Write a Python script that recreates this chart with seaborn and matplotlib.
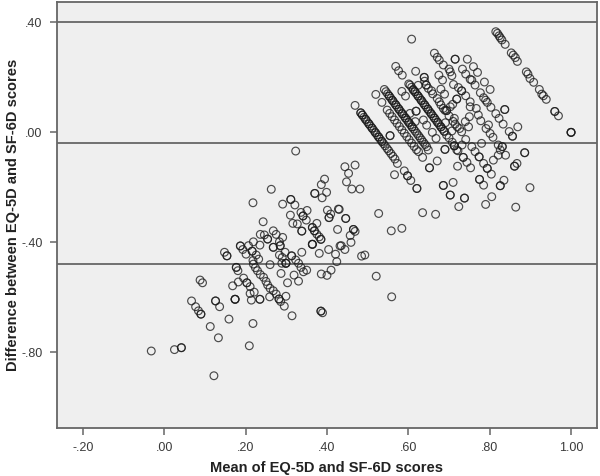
import matplotlib
matplotlib.use("Agg")
import matplotlib.pyplot as plt
import pandas as pd
import seaborn as sns

# values, grouped by region
stripe_a_mean = [.483, .483, .487, .491, .495, .499, .503, .507, .511, .515, .519, .523, .527, .531, .535, .539, .543, .548, .552, .557, .562, .567, .573]
stripe_a_diff = [.071, .071, .063, .055, .047, .039, .031, .023, .015, .007, -.001, -.009, -.017, -.025, -.033, -.041, -.049, -.059, -.067, -.077, -.087, -.097, -.113]

stripe_b_mean = [.545, .549, .553, .557, .561, .565, .569, .573, .577, .581, .585, .589, .593, .597, .601, .605, .609, .613, .617, .621, .625, .629, .633, .637, .641, .645, .649]
stripe_b_diff = [.148, .140, .132, .124, .116, .108, .100, .092, .084, .076, .068, .060, .052, .044, .036, .028, .020, .012, .004, -.004, -.012, -.020, -.028, -.036, -.044, -.052, -.064]

stripe_c_mean = [.548, .554, .560, .566, .572, .578, .584, .590, .596, .602, .608, .614, .620, .625]
stripe_c_diff = [.081, .069, .057, .045, .033, .021, .009, -.003, -.015, -.027, -.039, -.051, -.063, -.070]

stripe_d_mean = [.604, .608, .612, .616, .620, .624, .628, .632, .636, .640, .644, .648, .652, .656, .660, .664, .668, .672, .676, .680, .684, .688, .694, .700, .708, .713, .719]
stripe_d_diff = [.172, .164, .156, .148, .140, .132, .124, .116, .108, .100, .092, .084, .076, .068, .060, .052, .044, .036, .028, .020, .012, .004, -.010, -.020, -.036, -.049, -.064]

# darker stretches where several cases sit on top of each other
stack_mean = [.487, .495, .503, .511, .519, .527, .535, .553, .561, .569, .577, .585, .593, .601, .609, .616, .624, .632, .640, .648, .656, .664, .672, .680, .688]
stack_diff = [.063, .047, .031, .015, -.001, -.017, -.033, .132, .116, .100, .084, .068, .052, .036, .020, .148, .132, .116, .100, .084, .068, .052, .036, .020, .004]

stripe_e_mean = [.660, .680, .690, .700, .710, .720]
stripe_e_diff = [.140, .100, .080, .060, .040, .020]

top_mean = [.815, .819, .823, .826, .830, .838, .853, .858, .863, .868, .890, .894, .899, .908, .922, .928, .932, .939, .960, .960, .969, 1.0, 1.0, 1.0]
top_diff = [.366, .360, .351, .344, .336, .320, .289, .281, .272, .258, .220, .212, .196, .182, .156, .139, .133, .120, .076, .076, .060, .0, .0, .0]

upper_mean = [.608, .664, .671, .676, .686, .700, .703, .707, .715, .715, .745, .733, .741, .752, .756, .764, .760, .770, .787, .801, .777, .785, .790, .794, .803, .837, .837, .815, .823, .833, .869, .848, .856, .856, .569, .576, .585, .618, .675, .684, .639, .639, .644, .644, .649, .657, .640, .601, .612, .624, .584, .593, .520, .535, .541, .469]
upper_diff = [.339, .288, .273, .263, .245, .230, .220, .206, .266, .266, .266, .230, .212, .193, .190, .172, .239, .218, .183, .156, .144, .126, .117, .109, .091, .083, .083, .068, .051, .030, .020, .003, -.014, -.014, .240, .224, .208, .222, .208, .190, .200, .200, .172, .172, .160, .151, .186, .176, .154, .171, .149, .132, .138, .109, .156, .098]

centre_mean = [.680, .689, .671, .676, .711, .723, .731, .731, .741, .719, .719, .709, .703, .694, .694, .686, .752, .752, .767, .772, .750, .740, .748, .778, .797, .791, .801, .808, .713, .715, .726, .731, .707, .691, .741, .732, .713, .713, .722, .690, .690, .756, .764, .774, .774, .780, .619, .619, .617, .637, .645, .659, .668, .604, .555, .555]
centre_diff = [.157, .139, .123, .111, .174, .163, .151, .151, .133, .121, .121, .102, .093, .079, .079, .087, .111, .093, .087, .063, .057, .039, .020, .042, .027, .014, -.004, -.018, .051, .030, .014, .002, .005, .035, -.026, -.046, -.049, -.049, -.067, -.062, -.062, -.052, -.070, -.089, -.089, -.040, .077, .077, .039, .045, .026, .000, -.022, .069, -.012, -.012]

lower_right_mean = [.735, .735, .744, .753, .721, .785, .794, .794, .804, .809, .821, .831, .831, .826, .839, .821, .886, .886, .861, .861, .867, .835, .826, .826, .775, .775, .785, .899, .805, .790, .864, .738, .738, .724, .703, .703, .686, .686, .710, .566, .590, .598, .598, .606, .621, .621, .652, .652, .671, .635, .635, .667, .527, .558, .584, .521, .559]
lower_right_diff = [-.091, -.091, -.109, -.129, -.123, -.113, -.131, -.131, -.152, -.101, -.083, -.052, -.052, -.064, -.083, -.046, -.074, -.074, -.123, -.123, -.113, -.174, -.194, -.194, -.171, -.171, -.192, -.201, -.234, -.262, -.272, -.239, -.239, -.270, -.228, -.228, -.193, -.193, -.182, -.154, -.140, -.158, -.158, -.175, -.204, -.204, -.129, -.129, -.104, -.091, -.292, -.298, -.295, -.358, -.349, -.523, -.598]

low_far_mean = [-.032, .025, .042, .042, .122, .209, .133, .113, .159, .218, .314, .295, .286, .282, .282, .299, .259, .235, .235, .214, .221, .211, .136, .126, .126, .067, .077, .084, .090, .090, .088, .094, .174, .174, .174, .168, .182, .195, .203, .203, .211, .177, .177, .181, .148, .154, .154]
low_far_diff = [-.795, -.790, -.783, -.783, -.885, -.776, -.747, -.706, -.679, -.695, -.667, -.632, -.615, -.606, -.606, -.596, -.598, -.607, -.607, -.610, -.581, -.586, -.634, -.613, -.613, -.613, -.634, -.649, -.661, -.661, -.537, -.547, -.607, -.607, -.607, -.558, -.544, -.530, -.547, -.547, -.561, -.491, -.491, -.503, -.436, -.449, -.449]

low_mid_mean = [.187, .187, .193, .201, .207, .216, .216, .219, .235, .226, .232, .218, .263, .243, .236, .246, .254, .254, .268, .275, .291, .283, .285, .285, .268, .268, .283, .290, .297, .299, .299, .299, .289, .260, .287, .303, .319, .330, .313, .313, .323, .330, .336, .342, .350, .338, .381, .404, .364, .364, .364, .421, .424, .432, .426, .386, .400, .410, .385, .385, .389, .218, .219, .224, .229, .236, .244, .250, .254, .260, .268, .275]
low_mid_diff = [-.413, -.413, -.426, -.443, -.412, -.432, -.432, -.398, -.410, -.446, -.461, -.256, -.207, -.325, -.371, -.373, -.388, -.388, -.358, -.371, -.382, -.398, -.412, -.412, -.418, -.418, -.446, -.455, -.436, -.476, -.476, -.476, -.476, -.481, -.513, -.547, -.519, -.541, -.449, -.449, -.464, -.476, -.491, -.507, -.501, -.436, -.440, -.426, -.407, -.407, -.407, -.443, -.470, -.413, -.353, -.515, -.520, -.501, -.650, -.650, -.656, -.466, -.479, -.492, -.503, -.517, -.527, -.542, -.555, -.567, -.576, -.588]

up_mid_mean = [.323, .311, .311, .321, .291, .310, .316, .327, .336, .341, .341, .351, .349, .338, .338, .375, .364, .364, .369, .369, .375, .381, .385, .385, .370, .370, .386, .394, .399, .388, .401, .409, .405, .405, .428, .446, .446, .457, .465, .465, .469, .459, .435, .444, .485, .493, .444, .469, .453, .448, .461, .481, .430]
up_mid_diff = [-.068, -.244, -.244, -.264, -.261, -.301, -.331, -.333, -.291, -.304, -.304, -.284, -.319, -.359, -.359, -.331, -.346, -.346, -.358, -.358, -.370, -.380, -.389, -.389, -.222, -.222, -.190, -.170, -.218, -.238, -.283, -.297, -.310, -.310, -.279, -.313, -.313, -.375, -.353, -.353, -.360, -.400, -.412, -.426, -.450, -.446, -.125, -.119, -.149, -.180, -.206, -.206, -.280]

x_ticks = [-.20, .00, .20, .40, .60, .80, 1.00]
x_tick_labels = ["-.20", ".00", ".20", ".40", ".60", ".80", "1.00"]
y_ticks = [.40, .00, -.40, -.80]
y_tick_labels = [".40", ".00", "-.40", "-.80"]
ref_lines = [.40, -.04, -.48]

means = (stripe_a_mean + stripe_b_mean + stripe_c_mean + stripe_d_mean + stack_mean + stripe_e_mean + top_mean
         + upper_mean + centre_mean + lower_right_mean + low_far_mean + low_mid_mean + up_mid_mean)
diffs = (stripe_a_diff + stripe_b_diff + stripe_c_diff + stripe_d_diff + stack_diff + stripe_e_diff + top_diff
         + upper_diff + centre_diff + lower_right_diff + low_far_diff + low_mid_diff + up_mid_diff)
df = pd.DataFrame({"mean": means, "diff": diffs})

sns.set_style("white")
plt.rcParams['font.family'] = ['Liberation Sans', 'DejaVu Sans']

C_LINE = "#666666"
C_TEXT = "#3a3a3a"

fig = plt.figure(figsize=(6, 4.76), dpi=100, facecolor="white")
ax = fig.add_axes([56.5 / 600, 1 - 428 / 476, 541 / 600, 426 / 476])
ax.set_facecolor("#efefef")

sns.scatterplot(data=df, x="mean", y="diff", ax=ax, marker="o", s=31,
                facecolor="none", edgecolor="#1c1c1c", linewidth=0.85, alpha=0.78, zorder=3)

for v in ref_lines:
    ax.axhline(v, color=C_LINE, linewidth=1.3, zorder=2)

ax.set_xlim(-.265, 1.065)
ax.set_ylim(-1.075, .474)
ax.set_xticks(x_ticks)
ax.set_xticklabels(x_tick_labels)
ax.set_yticks(y_ticks)
ax.set_yticklabels(y_tick_labels)
ax.tick_params(axis="both", length=5, width=1.1, color=C_LINE, labelsize=9, labelcolor=C_TEXT, pad=5, bottom=True, left=True)
for sp in ax.spines.values():
    sp.set_color(C_LINE)
    sp.set_linewidth(1.3)

ax.set_xlabel("Mean of EQ-5D and SF-6D scores", fontsize=10.5, fontweight="bold", color="#222222", labelpad=5)
ax.set_ylabel("Difference between EQ-5D and SF-6D scores", fontsize=10.5, fontweight="bold", color="#222222", labelpad=1)

fig.savefig("out.png", dpi=100)
